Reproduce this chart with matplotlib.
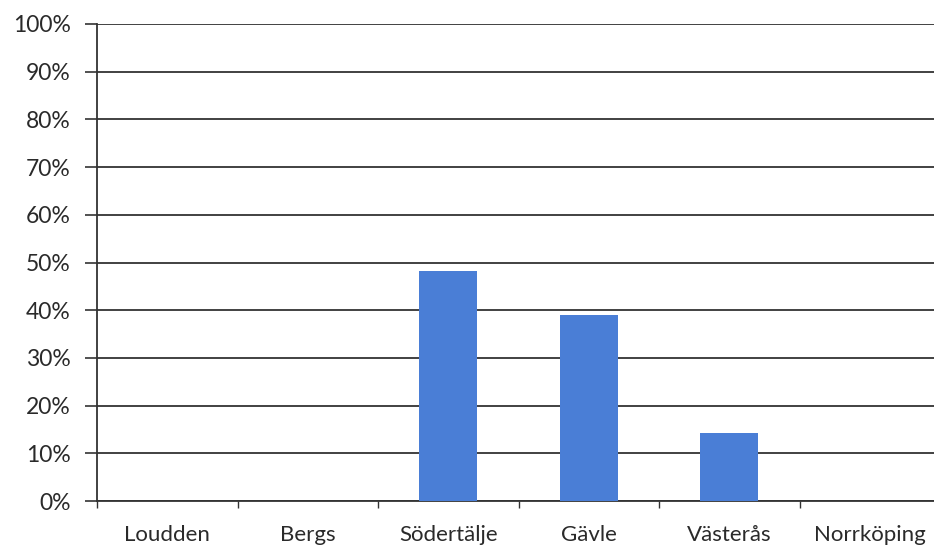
import matplotlib
matplotlib.use("Agg")
import matplotlib.pyplot as plt
import numpy as np

categories = ["Loudden", "Bergs", "Södertälje", "Gävle", "Västerås", "Norrköping"]
values = [0.0, 0.0, 48.3, 39.0, 14.2, 0.0]
y_ticks = [0, 10, 20, 30, 40, 50, 60, 70, 80, 90, 100]
y_labels = [f"{t}%" for t in y_ticks]

plt.rcParams["font.family"] = ["Lato", "DejaVu Sans"]

W, H = 934, 547
fig = plt.figure(figsize=(W / 100, H / 100), dpi=100)
ax = fig.add_axes([97 / W, 46 / H, 843 / W, 477 / H])

x = np.arange(len(categories))
ax.bar(x, values, width=0.41, color="#4a7ed6", zorder=3)

ax.set_xlim(-0.5, len(categories) - 0.5)
ax.set_ylim(0, 100)
ax.set_yticks(y_ticks)
ax.set_yticklabels(y_labels, fontsize=16.5, color="#2a2a2a")
ax.yaxis.grid(True, color="#333333", linewidth=1.3, zorder=1)
ax.tick_params(axis="y", length=9, width=1.2, color="#333333", pad=10)

ax.set_xticks(x)
ax.set_xticklabels(categories, fontsize=16, color="#2a2a2a")
ax.tick_params(axis="x", length=0, pad=17)
ax.set_xticks(np.arange(-0.5, len(categories) - 0.5, 1.0), minor=True)
ax.tick_params(axis="x", which="minor", length=5, width=1.0, color="#333333")

for side in ["top", "right"]:
    ax.spines[side].set_visible(False)
ax.spines["left"].set_color("#333333")
ax.spines["left"].set_linewidth(1.3)
ax.spines["bottom"].set_color("#333333")
ax.spines["bottom"].set_linewidth(1.3)

fig.savefig("out.png", dpi=100, facecolor="white")
